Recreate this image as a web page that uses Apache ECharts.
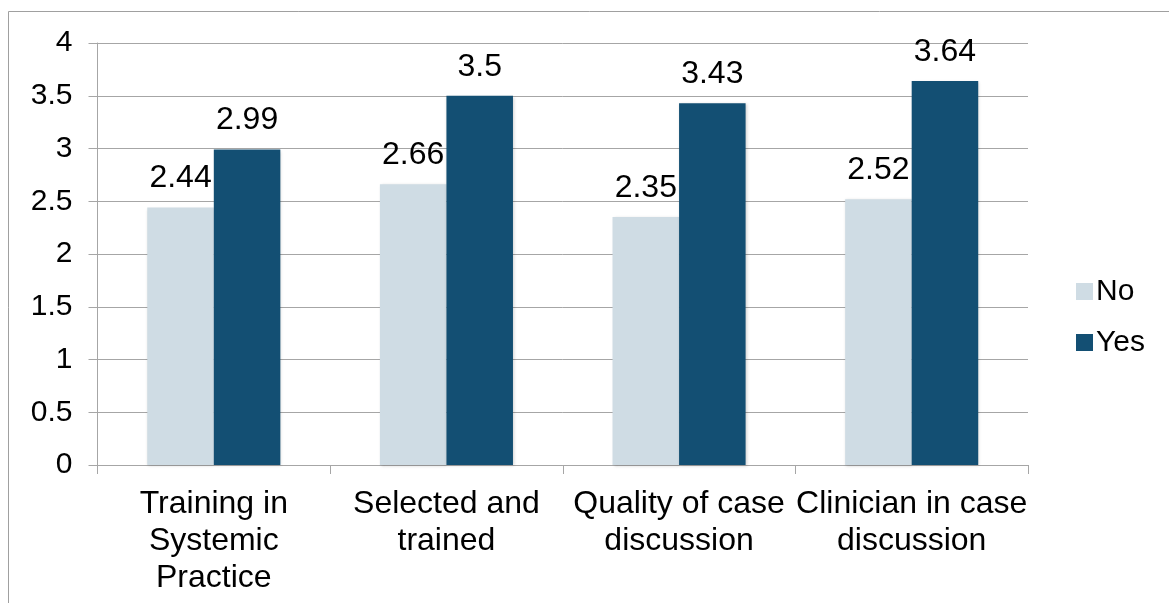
<!DOCTYPE html>
<html>
<head>
<meta charset="utf-8">
<script src="https://cdn.jsdelivr.net/npm/echarts@6/dist/echarts.min.js"></script>
<style>
html,body{margin:0;padding:0;background:#fff;}
#c{width:1169px;height:603px;}
</style>
</head>
<body>
<div id="c"></div>
<script>
const categories = ["Training in\nSystemic\nPractice", "Selected and\ntrained", "Quality of case\ndiscussion", "Clinician in case\ndiscussion"];
const seriesNames = ["No", "Yes"];
const noValues = [2.44, 2.66, 2.35, 2.52];
const yesValues = [2.99, 3.5, 3.43, 3.64];
const yTicks = { min: 0, max: 4, interval: 0.5 };

const FONT = '"Liberation Sans", Arial, sans-serif';
const GRID_COLOR = '#a6a6a6';

const chart = echarts.init(document.getElementById('c'), null, { renderer: 'canvas' });

function barSeries(name, data, color) {
  return {
    name: name,
    type: 'bar',
    data: data,
    barWidth: '28.6%',
    barGap: '0%',
    itemStyle: {
      color: color,
      shadowBlur: 3,
      shadowColor: 'rgba(0,0,0,0.18)',
      shadowOffsetX: 1,
      shadowOffsetY: 1
    },
    label: {
      show: true,
      position: 'top',
      distance: 13,
      fontFamily: FONT,
      fontSize: 32,
      lineHeight: 32,
      color: '#000'
    }
  };
}

chart.setOption({
  backgroundColor: '#fff',
  animation: false,
  graphic: [{
    type: 'rect',
    shape: { x: 8.5, y: 11.5, width: 1300, height: 700 },
    style: { fill: 'none', stroke: '#a0a0a0', lineWidth: 1 },
    silent: true,
    z: -1
  }],
  grid: { left: 97.5, right: 141, top: 43, bottom: 138, containLabel: false },
  legend: {
    orient: 'vertical',
    left: 1071,
    top: 271.5,
    itemWidth: 17,
    itemHeight: 17,
    itemGap: 21,
    icon: 'rect',
    textStyle: { fontFamily: FONT, fontSize: 30, color: '#000', padding: [0, 0, 0, -2], lineHeight: 30 },
    data: seriesNames
  },
  xAxis: {
    type: 'category',
    data: categories,
    axisLine: { lineStyle: { color: GRID_COLOR, width: 1 } },
    axisTick: { show: true, length: 9, lineStyle: { color: GRID_COLOR } },
    axisLabel: {
      interval: 0,
      margin: 21,
      fontFamily: FONT,
      fontSize: 32,
      lineHeight: 37,
      color: '#000'
    }
  },
  yAxis: {
    type: 'value',
    min: yTicks.min,
    max: yTicks.max,
    interval: yTicks.interval,
    axisLine: { show: true, lineStyle: { color: GRID_COLOR, width: 1 } },
    axisTick: { show: true, length: 9, lineStyle: { color: GRID_COLOR } },
    splitLine: { show: true, lineStyle: { color: GRID_COLOR, width: 1 } },
    axisLabel: {
      margin: 25,
      fontFamily: FONT,
      fontSize: 30,
      color: '#000'
    }
  },
  series: [
    barSeries(seriesNames[0], noValues, '#cfdce4'),
    barSeries(seriesNames[1], yesValues, '#134f73')
  ]
});
</script>
</body>
</html>
